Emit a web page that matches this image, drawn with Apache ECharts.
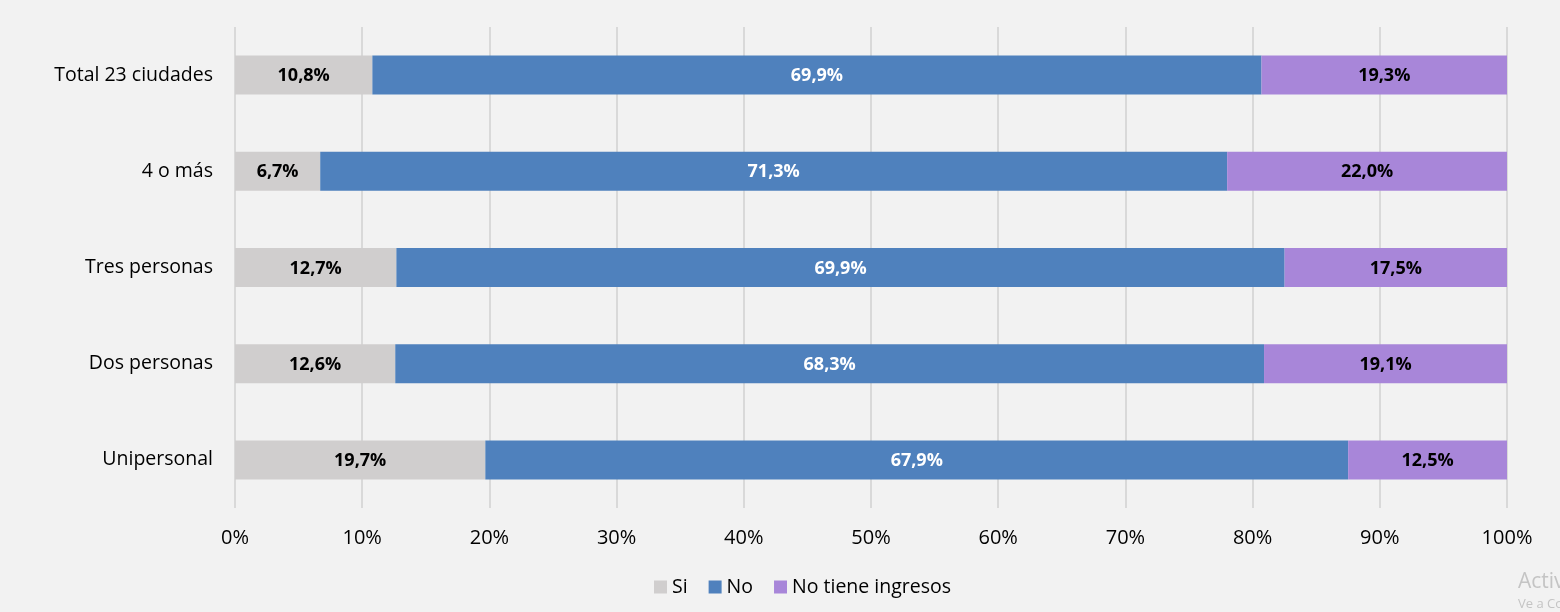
<!DOCTYPE html>
<html><head><meta charset="utf-8">
<script src="https://cdn.jsdelivr.net/npm/echarts@6/dist/echarts.min.js"></script>
<style>html,body{margin:0;padding:0;background:#f2f2f2}#c{width:1560px;height:612px}</style>
</head><body><div id="c"></div>
<script>
const categories = ['Unipersonal', 'Dos personas', 'Tres personas', '4 o más', 'Total 23 ciudades'];
const si = [19.7, 12.6, 12.7, 6.7, 10.8];
const no = [67.9, 68.3, 69.9, 71.3, 69.9];
const noTiene = [12.5, 19.1, 17.5, 22.0, 19.3];
const seriesNames = ['Si', 'No', 'No tiene ingresos'];
const xTicks = [0, 10, 20, 30, 40, 50, 60, 70, 80, 90, 100];

const totals = categories.map((_, i) => si[i] + no[i] + noTiene[i]);
const norm = arr => arr.map((v, i) => ({ value: v / totals[i] * 100, raw: v }));
const fmt = p => p.data.raw.toFixed(1).replace('.', ',') + '%';
const FONT = '"Open Sans", sans-serif';

const mk = (name, arr, color, labColor) => ({
  name, type: 'bar', stack: 't', data: norm(arr), barWidth: 39,
  itemStyle: { color },
  label: { show: true, position: 'inside', formatter: fmt, color: labColor,
           fontFamily: FONT, fontSize: 18, fontWeight: 'bold', offset: [0, 1] }
});

const chart = echarts.init(document.getElementById('c'));
chart.setOption({
  backgroundColor: '#f2f2f2',
  animation: false,
  grid: { left: 235, right: 53, top: 27, bottom: 104, containLabel: false },
  legend: {
    data: seriesNames, top: 577, left: 654, itemWidth: 13, itemHeight: 13,
    itemGap: 21, icon: 'rect', padding: 0,
    textStyle: { fontFamily: FONT, fontSize: 19.5, color: '#000' }
  },
  xAxis: {
    type: 'value', min: 0, max: 100, interval: 10,
    axisLabel: { formatter: v => xTicks.includes(v) ? v + '%' : '', fontFamily: FONT, fontSize: 20, color: '#000', margin: 20 },
    axisLine: { show: false }, axisTick: { show: false },
    splitLine: { show: true, lineStyle: { color: '#d9d9d9', width: 2 } }
  },
  yAxis: {
    type: 'category', data: categories,
    axisLabel: { fontFamily: FONT, fontSize: 19.5, color: '#000', margin: 22, padding: [2, 0, 0, 0] },
    axisLine: { show: false }, axisTick: { show: false }
  },
  series: [
    mk(seriesNames[0], si, '#d0cece', '#000'),
    mk(seriesNames[1], no, '#4f81bd', '#fff'),
    mk(seriesNames[2], noTiene, '#a886d9', '#000')
  ],
  graphic: [
    { type: 'text', left: 1518, top: 572, style: { text: 'Activar Windows', fontFamily: FONT, fontSize: 21, fill: '#c4c4c4' } },
    { type: 'text', left: 1518, top: 598, style: { text: 'Ve a Configuración', fontFamily: FONT, fontSize: 13, fill: '#c4c4c4' } }
  ]
});
</script></body></html>
